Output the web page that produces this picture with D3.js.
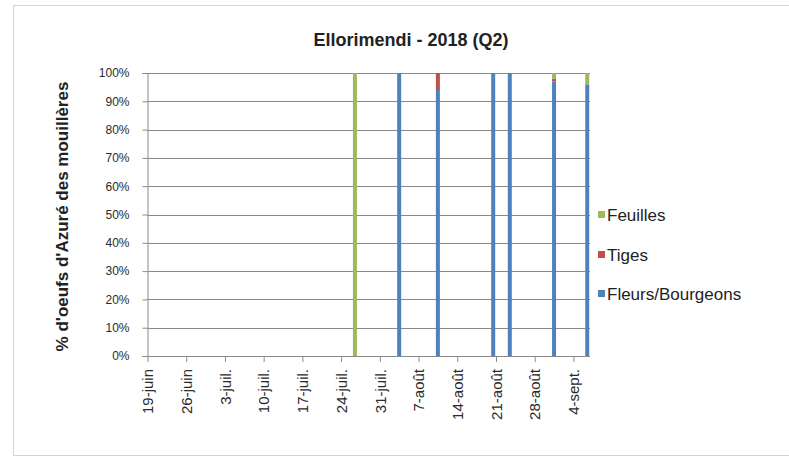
<!DOCTYPE html>
<html>
<head>
<meta charset="utf-8">
<script src="https://cdn.jsdelivr.net/npm/d3@7"></script>
<style>
  html, body { margin: 0; padding: 0; background: #fff; }
  svg { display: block; font-family: "Liberation Sans", Arial, sans-serif; }
</style>
</head>
<body>
<svg id="chart" width="789" height="463"></svg>
<script>
// Survey dates (one column per sampling day)
const dates = ["2018-07-26", "2018-08-03", "2018-08-10", "2018-08-20", "2018-08-23", "2018-08-31", "2018-09-06"];
// Share of eggs (%) by plant part, stacked bottom to top
const fleurs = [0, 100, 94, 100, 100, 97, 96];
const tiges = [0, 0, 6, 0, 0, 1, 0];
const feuilles = [100, 0, 0, 0, 0, 2, 4];

const seriesNames = ["Fleurs/Bourgeons", "Tiges", "Feuilles"];
const seriesColors = ["#4F81BD", "#C0504D", "#9BBB59"];

// Weekly axis ticks and their labels
const tickDates = ["2018-06-19", "2018-06-26", "2018-07-03", "2018-07-10", "2018-07-17", "2018-07-24",
                   "2018-07-31", "2018-08-07", "2018-08-14", "2018-08-21", "2018-08-28", "2018-09-04"];
const tickLabels = ["19-juin", "26-juin", "3-juil.", "10-juil.", "17-juil.", "24-juil.",
                    "31-juil.", "7-août", "14-août", "21-août", "28-août", "4-sept."];
const yTicks = [0, 10, 20, 30, 40, 50, 60, 70, 80, 90, 100];

const parse = d3.utcParse("%Y-%m-%d");
const svg = d3.select("#chart");

// Chart frame
svg.append("rect")
  .attr("x", 13.5).attr("y", 5.5).attr("width", 800).attr("height", 450)
  .attr("fill", "#fff").attr("stroke", "#d4d4d4");

const plotLeft = 147.5, plotRight = 590, plotTop = 73, plotBottom = 356;

const x = d3.scaleUtc()
  .domain([parse("2018-06-19"), parse("2018-09-07")])
  .range([plotLeft, plotRight]);
const y = d3.scaleLinear().domain([0, 100]).range([plotBottom, plotTop]);

// Horizontal gridlines
svg.append("g").selectAll("line").data(yTicks.filter(v => v > 0)).join("line")
  .attr("x1", plotLeft).attr("x2", plotRight)
  .attr("y1", d => Math.round(y(d)) + 0.5).attr("y2", d => Math.round(y(d)) + 0.5)
  .attr("stroke", "#8a8a8a").attr("stroke-width", 1);

// Stacked columns
const rows = dates.map((d, i) => ({
  date: parse(d),
  "Fleurs/Bourgeons": fleurs[i],
  "Tiges": tiges[i],
  "Feuilles": feuilles[i]
}));
const stack = d3.stack().keys(seriesNames)(rows);
const barW = 4;
const halfDay = 12 * 3600 * 1000;

svg.append("g").selectAll("g").data(stack).join("g")
  .attr("fill", (d, i) => seriesColors[i])
  .selectAll("rect").data(d => d).join("rect")
  .attr("x", d => x(new Date(+d.data.date + halfDay)) - barW / 2)
  .attr("width", barW)
  .attr("y", d => y(d[1]))
  .attr("height", d => y(d[0]) - y(d[1]));

// Y axis
const yAxis = d3.axisLeft(y).tickValues(yTicks).tickSize(5).tickFormat(d => d + "%");
const gy = svg.append("g").attr("transform", `translate(${plotLeft},0)`).call(yAxis);
gy.select(".domain").attr("stroke", "#8a8a8a");
gy.selectAll(".tick line").attr("stroke", "#8a8a8a");
gy.selectAll(".tick text").attr("x", -18).attr("fill", "#2a2a2a").attr("font-size", 12);

// X axis
const xAxis = d3.axisBottom(x).tickValues(tickDates.map(parse)).tickSize(6)
  .tickFormat((d, i) => tickLabels[i]);
const gx = svg.append("g").attr("transform", `translate(0,${plotBottom})`).call(xAxis);
gx.select(".domain").attr("stroke", "#8a8a8a").attr("d", `M${plotLeft},0.5H${plotRight}`);
gx.selectAll(".tick line").attr("stroke", "#8a8a8a");
gx.selectAll(".tick text")
  .attr("transform", "rotate(-90)")
  .attr("x", -13).attr("y", 0).attr("dy", "0.35em")
  .attr("text-anchor", "end")
  .attr("fill", "#2a2a2a").attr("font-size", 15);

// Title
svg.append("text")
  .attr("x", 411).attr("y", 46)
  .attr("text-anchor", "middle")
  .attr("font-size", 18).attr("font-weight", "bold").attr("fill", "#222")
  .text("Ellorimendi - 2018 (Q2)");

// Y axis title
svg.append("text")
  .attr("transform", `translate(68,${(plotTop + plotBottom) / 2 + 2}) rotate(-90)`)
  .attr("text-anchor", "middle")
  .attr("font-size", 17).attr("font-weight", "bold").attr("fill", "#222")
  .text("% d'oeufs d'Azuré des mouillères");

// Legend (top series listed first)
const legendItems = [
  { name: "Feuilles", color: seriesColors[2], y: 215 },
  { name: "Tiges", color: seriesColors[1], y: 255 },
  { name: "Fleurs/Bourgeons", color: seriesColors[0], y: 294 }
];
const lg = svg.append("g").selectAll("g").data(legendItems).join("g")
  .attr("transform", d => `translate(598,${d.y})`);
lg.append("rect").attr("x", 0).attr("y", -4).attr("width", 7).attr("height", 7)
  .attr("fill", d => d.color);
lg.append("text").attr("x", 9).attr("y", 0).attr("dy", "0.35em")
  .attr("font-size", 17).attr("fill", "#222").text(d => d.name);
</script>
</body>
</html>
